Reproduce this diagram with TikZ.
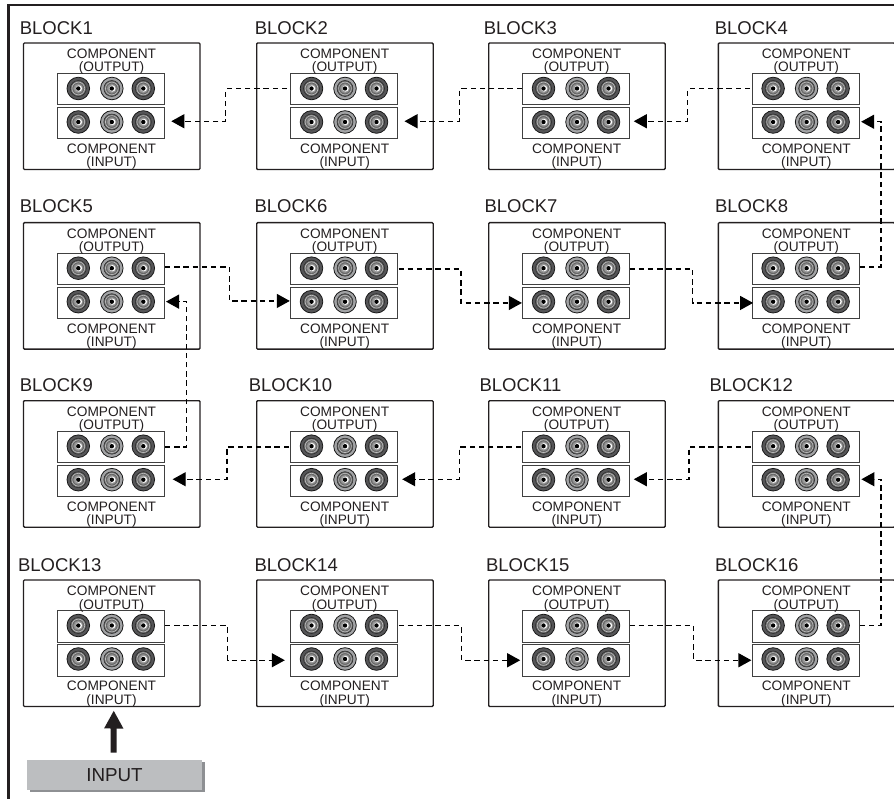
\documentclass[tikz,border=0pt]{standalone}
\usepackage{fontspec}
\setmainfont{Liberation Sans}
\usetikzlibrary{arrows.meta,shadows}
\definecolor{inkline}{HTML}{231F20}
\definecolor{jackdark}{HTML}{555557}
\definecolor{jackmid}{HTML}{A2A3A5}
\definecolor{inputgray}{HTML}{BCBEC0}
\definecolor{inputedge}{HTML}{8E9093}
\newcommand{\jack}[3]{%
  \fill[#3,draw=black!90,line width=0.8] (#1,#2) circle (11.3);
  \draw[black!85,fill=black!60,line width=0.5] (#1,#2) circle (8);
  \draw[white!75!black,line width=0.6] (#1,#2) circle (6.4);
  \draw[black!50,fill=white!60!black,line width=0.5] (#1,#2) circle (4.8);
  \fill[white] (#1+0.6,#2) circle (3.1);
  \fill[black] (#1,#2) circle (2.2);
}
\begin{document}
\begin{tikzpicture}[
x=1pt,y=-1pt,
text=inkline,
blockbox/.style={draw=inkline,line width=1.4,rounded corners=1,minimum width=176.5,minimum height=126.5,inner sep=0,outer sep=0,anchor=north west},
panelbox/.style={draw=black!75,line width=1,minimum width=107,minimum height=31.5,inner sep=0,outer sep=0,anchor=north west},
blocktitle/.style={font=\fontsize{18.5}{20}\selectfont,inner sep=0,anchor=base west},
parttext/.style={font=\fontsize{13.7}{15}\selectfont,inner sep=0,anchor=base},
link/.style={draw=black,line width=1.25,dash pattern=on 5.4pt off 3.8pt,-{Triangle[length=13pt,width=14pt]}},
inputbox/.style={fill=inputgray,minimum width=175,minimum height=30,inner sep=0,font=\fontsize{18.8}{20}\selectfont,copy shadow={fill=inputedge,draw=none,shadow xshift=2.6pt,shadow yshift=-2pt}},
]
\useasboundingbox (0,0) rectangle (894,799);
\draw[inkline,line width=2.6] (8.3,799) |- (894,5);
% blocks
\foreach \n/\x/\y/\tx/\ty in {
    1/23.5/43/19.6/35,2/256.7/43/254.6/35,3/488.7/43/483.6/35,4/718.3/43/714.6/35,
    5/23.5/222.7/19.6/212.7,6/256.7/222.7/254.3/212.7,7/488.7/222.7/484.3/212.7,8/718.3/222.7/714.9/212.7,
    9/23.5/400.7/19.6/391.7,10/256.7/400.7/248.6/391.7,11/488.7/400.7/479.3/391.7,12/718.3/400.7/709.3/391.7,
    13/23.5/580/17.9/571.7,14/256.7/580/254.3/571.7,15/488.7/580/485.9/571.7,16/718.3/580/714.9/571.7}
{
    \node[blockbox] (b\n) at (\x,\y) {};
    \node[blocktitle] (b\n-title) at (\tx,\ty) {BLOCK\n};
    \node[panelbox] (b\n-out) at (\x+33.8,\y+30.5) {};
    \node[panelbox] (b\n-in) at (\x+33.8,\y+64.5) {};
    \node[parttext] (b\n-top) at (\x+88,\y+15.5) {COMPONENT};
    \node[parttext] (b\n-output) at (\x+88,\y+29) {(OUTPUT)};
    \node[parttext] (b\n-bottom) at (\x+88,\y+110.5) {COMPONENT};
    \node[parttext] (b\n-input) at (\x+88,\y+124) {(INPUT)};
    \foreach \dx/\shade in {54.8/jackdark,88.3/jackmid,119.8/jackdark} {
        \jack{\x+\dx}{\y+45.5}{\shade}
        \jack{\x+\dx}{\y+79}{\shade}
    }
}
% connectors
\foreach \from/\fa/\fs/\run/\to/\ta/\ts/\ya/\yb in {
    2/west/-3.4/-61.3/1/east/7/0.5/2,
    3/west/-0.6/-62.4/2/east/7/0.5/2,
    4/west/-2/-62.3/3/east/4.3/0.5/2,
    8/east/0.7/21.3/4/east/2/2/1.5,
    5/east/0.7/64.3/6/west/-0.7/2/2,
    6/east/1/62.4/7/west/-0.6/0/0,
    7/east/0/63.3/8/west/1/0/0,
    9/east/0.7/21.7/5/east/1.7/0/1.3,
    10/west/-1.5/-62/9/east/8.4/0/1.7,
    11/west/-1.5/-61.7/10/east/4.7/0/1.7,
    12/west/-1.5/-61.7/11/east/4.3/0/1.7,
    16/east/0.7/21.3/12/east/2.3/0.5/1.7,
    13/east/0.7/62.7/14/west/-5.7/0.5/0,
    14/east/1/63/15/west/-2.3/0.5/0,
    15/east/0/64.3/16/west/-0.7/0.5/0}
{
    \draw[link] ([xshift=\fs pt,yshift=\ya pt]b\from-out.\fa) -- ++(\run,0) |- ([xshift=\ts pt,yshift=\yb pt]b\to-in.\ta);
}
% input
\node[inputbox] (input) at (114.5,775) {INPUT};
\draw[inkline,line width=6,-{Triangle[length=18pt,width=18pt]}] ([xshift=-0.8pt,yshift=7.3pt]input.north) -- ([xshift=2pt,yshift=-4pt]b13.south);
\end{tikzpicture}
\end{document}
